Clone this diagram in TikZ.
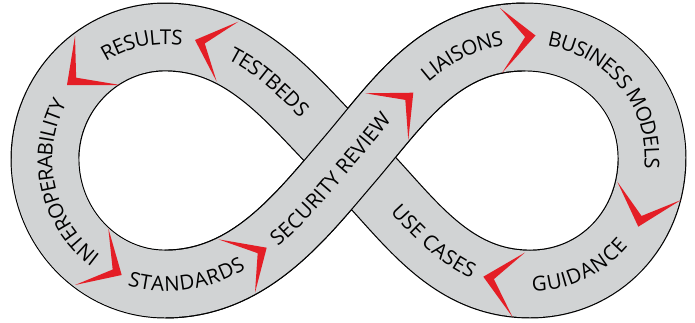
\documentclass[tikz,border=0pt]{standalone}
\usepackage{fontspec}
\newfontfamily\labfamily{Open Sans}
\usetikzlibrary{decorations.text,calc}
\definecolor{bandgray}{RGB}{209,211,212}
\definecolor{chevred}{RGB}{228,30,38}
\newcommand\labfont{\labfamily\fontsize{20.5}{24}\selectfont}
% start of a label on its path: centre minus half its width (measured outside the picture)
\newcommand\prep[3]{\setbox0=\hbox{\labfont #3}%
  \expandafter\xdef\csname ls#1\endcsname{\the\dimexpr #2pt-0.5\wd0\relax}}
\newcommand\bandlabel[3]{%
  \path[decorate,decoration={text along path,text={|\labfont|#3},
    text align={left,left indent=\csname ls#2\endcsname},raise=-7.3pt}] #1;}
\newcommand\chevron[3]{%
  \fill[chev] #1 -- #2 -- #3 -- ($0.7*#2+0.15*#1+0.15*#3$) -- cycle;}
\tikzset{
  band/.style={draw=black,line width=1.2pt,double=bandgray,double distance=66.5pt},
  bandline/.style={draw=black,line width=68.9pt},
  bandfill/.style={draw=bandgray,line width=66.5pt},
  chev/.style={fill=chevred}
}
\begin{document}
\prep{std}{214}{STANDARDS}%
\prep{sec}{396}{SECURITY REVIEW}%
\prep{lia}{579}{LIAISONS}%
\prep{bus}{761}{BUSINESS MODELS}%
\prep{int}{164}{INTEROPERABILITY}%
\prep{res}{358}{RESULTS}%
\prep{tes}{499}{TESTBEDS}%
\prep{use}{729}{USE CASES}%
\prep{gui}{891}{GUIDANCE}%
\begin{tikzpicture}[x=1pt,y=-1pt]
\useasboundingbox (0,0) rectangle (695,322);
% key points of the centre line
\coordinate (C) at (350,159);
\coordinate (RT) at (525,37);
\coordinate (RR) at (652,158);
\coordinate (RB) at (530,284);
\coordinate (LT) at (165,37);
\coordinate (LL) at (45,159);
\coordinate (LB) at (165,284);
% control points
\coordinate (a1) at (398.6,101.9); \coordinate (b1) at (440,37);
\coordinate (a2) at (595,37);      \coordinate (b2) at (652,88);
\coordinate (a3) at (652,228);     \coordinate (b3) at (600,284);
\coordinate (a4) at (445,284);     \coordinate (b4) at (404,211);
\coordinate (a5) at (296,107);     \coordinate (b5) at (250,37);
\coordinate (a6) at (99,37);       \coordinate (b6) at (45,92);
\coordinate (a7) at (45,228);      \coordinate (b7) at (99,284);
\coordinate (a8) at (250,284);     \coordinate (b8) at (301,216);
\def\fullpath{(C) .. controls (a1) and (b1) .. (RT) .. controls (a2) and (b2) .. (RR)
  .. controls (a3) and (b3) .. (RB) .. controls (a4) and (b4) .. (C)
  .. controls (a5) and (b5) .. (LT) .. controls (a6) and (b6) .. (LL)
  .. controls (a7) and (b7) .. (LB) .. controls (a8) and (b8) .. (C) -- cycle}
\def\overpath{(LB) .. controls (a8) and (b8) .. (C) .. controls (a1) and (b1) .. (RT)}
\def\overlong{(LL) .. controls (a7) and (b7) .. (LB) .. controls (a8) and (b8) .. (C)
  .. controls (a1) and (b1) .. (RT) .. controls (a2) and (b2) .. (RR)}
\def\fwdpath{(LL) .. controls (a7) and (b7) .. (LB) .. controls (a8) and (b8) .. (C)
  .. controls (a1) and (b1) .. (RT) .. controls (a2) and (b2) .. (RR)
  .. controls (a3) and (b3) .. (RB)}
\def\revpath{(LB) .. controls (b7) and (a7) .. (LL) .. controls (b6) and (a6) .. (LT)
  .. controls (b5) and (a5) .. (C) .. controls (b4) and (a4) .. (RB)
  .. controls (b3) and (a3) .. (RR)}
% the band
\draw[band] \fullpath;
\draw[bandline] \overpath;
\draw[bandfill] \overlong;
% labels
\bandlabel{\fwdpath}{std}{STANDARDS}
\bandlabel{\fwdpath}{sec}{SECURITY REVIEW}
\bandlabel{\fwdpath}{lia}{LIAISONS}
\bandlabel{\fwdpath}{bus}{BUSINESS MODELS}
\bandlabel{\revpath}{int}{INTEROPERABILITY}
\bandlabel{\revpath}{res}{RESULTS}
\bandlabel{\revpath}{tes}{TESTBEDS}
\bandlabel{\revpath}{use}{USE CASES}
\bandlabel{\revpath}{gui}{GUIDANCE}
% chevrons
\chevron{(75,36)}{(67,85)}{(120,85)}
\chevron{(108.3,228.3)}{(121.7,275)}{(75,285)}
\chevron{(218.3,239.3)}{(266.7,247.7)}{(255,292.7)}
\chevron{(365,93.3)}{(413.3,92.7)}{(408.3,140)}
\chevron{(500,8)}{(535.5,35.5)}{(502,73)}
\chevron{(617.3,181.7)}{(638.3,226.7)}{(681,200)}
\chevron{(525,252.5)}{(483.3,276.7)}{(512.5,317)}
\chevron{(238.3,21.7)}{(195,40)}{(216.7,81.7)}
\end{tikzpicture}
\end{document}
